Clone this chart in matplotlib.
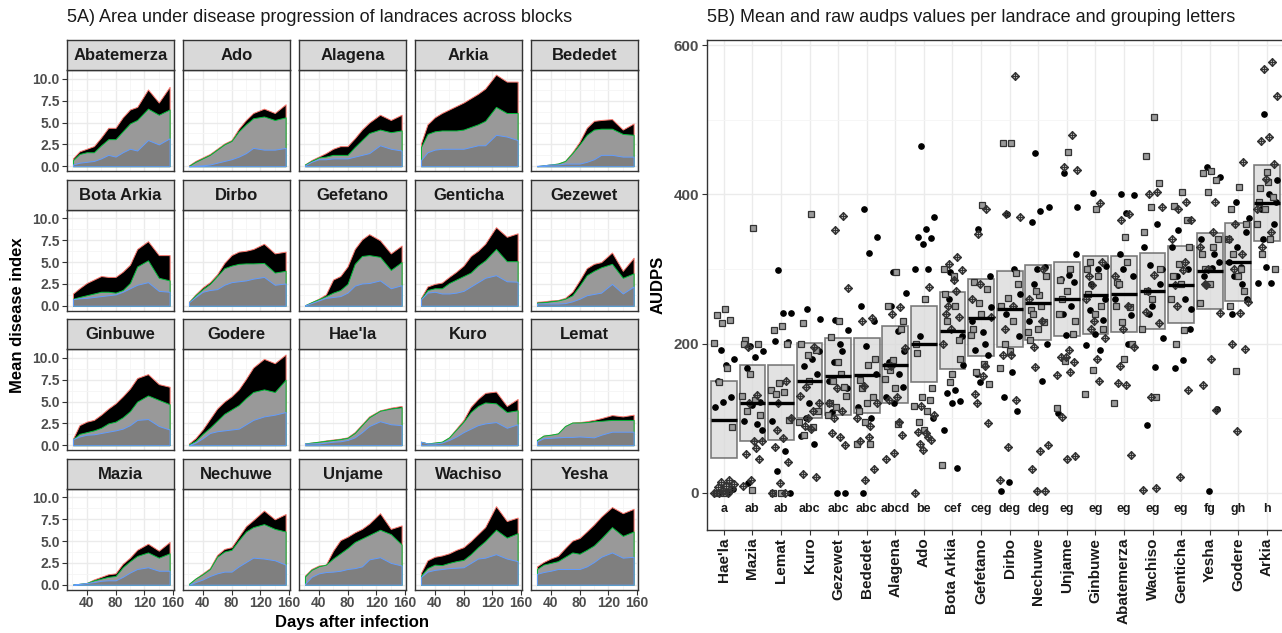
import numpy as np
import matplotlib
matplotlib.use("Agg")
import matplotlib.pyplot as plt
from matplotlib.path import Path
from matplotlib.patches import Rectangle

plt.rcParams['font.family'] = ['Liberation Sans', 'DejaVu Sans']

# ---------------- data: panel A ----------------
days = [21, 30, 40, 50, 60, 70, 80, 90, 100, 110, 125, 140, 155]
facets = ["Abatemerza", "Ado", "Alagena", "Arkia", "Bededet",
          "Bota Arkia", "Dirbo", "Gefetano", "Genticha", "Gezewet",
          "Ginbuwe", "Godere", "Hae'la", "Kuro", "Lemat",
          "Mazia", "Nechuwe", "Unjame", "Wachiso", "Yesha"]

upper_layer = {
    "Abatemerza": [0.9, 1.7, 2.0, 2.3, 3.3, 4.4, 4.4, 5.6, 6.5, 6.8, 8.8, 7.3, 9.1],
    "Ado": [0.1, 0.6, 1.0, 1.4, 2.0, 2.6, 3.0, 4.3, 5.3, 6.1, 6.6, 6.1, 7.1],
    "Alagena": [0.2, 0.7, 1.1, 1.5, 2.0, 2.3, 2.3, 3.2, 4.2, 5.0, 5.9, 5.3, 5.9],
    "Arkia": [2.6, 4.8, 5.6, 6.1, 6.5, 6.9, 7.3, 7.8, 8.3, 8.9, 10.5, 9.7, 9.7],
    "Bededet": [0.0, 0.1, 0.2, 0.3, 0.6, 1.6, 2.8, 4.4, 5.2, 5.3, 5.4, 4.2, 4.9],
    "Bota Arkia": [1.4, 2.0, 2.6, 3.0, 3.4, 3.3, 3.3, 3.9, 4.7, 6.5, 7.4, 5.8, 5.8],
    "Dirbo": [0.45, 1.3, 2.1, 2.7, 3.6, 4.9, 5.8, 6.2, 6.3, 6.5, 7.1, 6.0, 6.2],
    "Gefetano": [0.05, 0.4, 0.8, 1.3, 3.0, 3.4, 4.5, 6.5, 7.6, 8.2, 7.5, 6.0, 6.9],
    "Genticha": [0.9, 2.2, 2.5, 2.65, 3.3, 3.9, 4.6, 5.7, 6.3, 7.1, 9.0, 7.9, 8.3],
    "Gezewet": [0.45, 0.5, 0.6, 0.65, 0.9, 1.6, 2.9, 4.3, 4.8, 5.0, 6.1, 4.0, 5.5],
    "Ginbuwe": [0.75, 2.3, 2.7, 2.9, 3.5, 4.2, 4.8, 5.6, 6.5, 7.7, 8.15, 7.0, 6.7],
    "Godere": [0.2, 0.8, 1.8, 3.0, 4.2, 5.0, 5.6, 6.4, 7.6, 8.9, 9.9, 9.4, 10.4],
    "Hae'la": [0.2, 0.3, 0.4, 0.55, 0.65, 0.75, 0.9, 1.5, 2.4, 3.3, 4.0, 4.3, 4.5],
    "Kuro": [0.4, 0.2, 0.3, 0.4, 0.9, 1.9, 2.9, 4.4, 5.3, 6.0, 6.15, 4.5, 5.3],
    "Lemat": [0.6, 1.1, 1.2, 1.35, 2.2, 2.6, 2.65, 2.75, 2.9, 3.1, 3.45, 3.3, 3.5],
    "Mazia": [0.0, 0.1, 0.2, 0.6, 0.9, 1.2, 1.3, 2.4, 3.1, 4.0, 4.7, 3.9, 4.9],
    "Nechuwe": [0.1, 0.7, 1.3, 1.9, 3.4, 4.1, 4.3, 5.5, 6.7, 7.4, 8.5, 7.5, 8.1],
    "Unjame": [1.05, 1.8, 2.2, 2.3, 3.9, 5.1, 5.5, 6.0, 6.4, 7.0, 8.2, 6.4, 6.8],
    "Wachiso": [1.35, 2.8, 3.2, 3.35, 3.6, 4.0, 4.3, 5.0, 5.8, 6.6, 9.0, 7.3, 7.7],
    "Yesha": [2.1, 2.6, 3.0, 3.3, 4.2, 5.05, 5.35, 6.1, 6.9, 7.8, 8.9, 8.2, 8.7],
}
middle_layer = {
    "Abatemerza": [0.7, 1.4, 1.6, 1.6, 2.4, 3.1, 3.1, 4.0, 4.9, 5.3, 6.6, 5.9, 6.5],
    "Ado": [0.05, 0.5, 0.9, 1.3, 1.9, 2.5, 2.9, 4.0, 4.8, 5.5, 5.7, 5.3, 5.6],
    "Alagena": [0.2, 0.6, 1.0, 1.1, 1.3, 1.3, 1.3, 2.2, 3.0, 3.8, 4.2, 3.9, 4.1],
    "Arkia": [2.2, 3.7, 4.0, 4.1, 4.1, 4.1, 4.2, 4.5, 4.8, 5.2, 6.8, 6.1, 6.1],
    "Bededet": [0.0, 0.1, 0.2, 0.3, 0.6, 1.5, 2.5, 3.6, 4.2, 4.3, 4.3, 3.7, 3.6],
    "Bota Arkia": [0.8, 1.0, 1.2, 1.4, 1.6, 1.6, 1.5, 1.8, 2.6, 4.5, 5.2, 3.2, 2.9],
    "Dirbo": [0.4, 1.2, 1.9, 2.5, 3.4, 4.3, 4.6, 4.8, 4.85, 4.85, 4.9, 3.8, 4.0],
    "Gefetano": [0.05, 0.4, 0.75, 1.1, 1.5, 1.8, 2.5, 4.8, 5.7, 5.8, 5.6, 4.1, 5.0],
    "Genticha": [0.8, 1.8, 2.0, 2.0, 2.6, 3.0, 3.4, 3.8, 4.6, 5.2, 6.5, 5.1, 5.1],
    "Gezewet": [0.35, 0.4, 0.5, 0.6, 0.8, 1.2, 2.3, 3.5, 4.0, 4.4, 4.8, 3.2, 3.7],
    "Ginbuwe": [0.7, 1.3, 1.5, 1.7, 2.0, 2.5, 2.7, 3.2, 3.9, 5.0, 5.7, 5.2, 4.7],
    "Godere": [0.1, 0.5, 1.3, 2.0, 2.8, 3.6, 4.1, 4.6, 5.4, 6.1, 6.4, 6.1, 7.5],
    "Hae'la": [0.2, 0.3, 0.4, 0.5, 0.6, 0.7, 0.85, 1.4, 2.3, 3.2, 3.95, 4.2, 4.35],
    "Kuro": [0.4, 0.2, 0.3, 0.4, 0.9, 1.8, 2.7, 3.8, 4.5, 4.9, 4.8, 3.8, 4.0],
    "Lemat": [0.6, 1.1, 1.2, 1.35, 2.2, 2.6, 2.6, 2.65, 2.75, 2.8, 2.9, 2.9, 2.9],
    "Mazia": [0.0, 0.1, 0.2, 0.5, 0.7, 0.9, 1.0, 2.0, 2.7, 3.3, 3.7, 3.1, 3.6],
    "Nechuwe": [0.1, 0.7, 1.2, 1.8, 3.2, 3.8, 4.0, 5.1, 6.1, 6.6, 6.95, 6.4, 6.1],
    "Unjame": [0.95, 1.7, 2.1, 2.3, 3.0, 3.6, 4.2, 4.9, 5.3, 5.7, 6.3, 5.8, 4.6],
    "Wachiso": [1.05, 1.9, 2.3, 2.25, 2.5, 2.7, 2.85, 3.5, 4.3, 5.0, 6.3, 5.4, 5.9],
    "Yesha": [1.8, 2.3, 2.5, 2.7, 3.2, 3.7, 3.55, 4.0, 4.5, 5.3, 6.6, 5.6, 6.1],
}
lower_layer = {
    "Abatemerza": [0.2, 0.4, 0.5, 0.6, 0.9, 1.3, 1.1, 1.6, 2.0, 1.8, 3.0, 2.5, 3.2],
    "Ado": [0.0, 0.05, 0.1, 0.2, 0.4, 0.6, 0.8, 1.1, 1.5, 2.1, 1.9, 1.9, 2.1],
    "Alagena": [0.1, 0.5, 0.8, 0.8, 0.9, 0.9, 0.9, 1.1, 1.3, 1.5, 2.4, 2.0, 1.8],
    "Arkia": [0.7, 1.6, 1.9, 2.0, 2.0, 2.0, 2.0, 2.2, 2.4, 2.4, 3.6, 3.4, 3.0],
    "Bededet": [0.05, 0.1, 0.2, 0.2, 0.3, 0.3, 0.3, 0.5, 0.8, 1.3, 1.3, 1.1, 1.1],
    "Bota Arkia": [0.75, 0.85, 0.9, 1.0, 1.1, 1.2, 1.3, 1.6, 2.0, 2.4, 2.7, 1.7, 1.6],
    "Dirbo": [0.4, 1.0, 1.6, 1.8, 1.9, 2.4, 2.7, 2.8, 2.9, 3.1, 3.3, 2.4, 2.55],
    "Gefetano": [0.05, 0.3, 0.6, 0.9, 1.0, 1.1, 1.5, 2.3, 2.55, 2.6, 2.9, 2.0, 2.35],
    "Genticha": [0.75, 1.5, 1.6, 1.4, 1.4, 1.5, 1.7, 2.2, 2.7, 3.2, 3.5, 2.8, 2.75],
    "Gezewet": [0.25, 0.25, 0.25, 0.25, 0.3, 0.5, 0.8, 1.2, 1.35, 1.5, 2.5, 1.4, 2.2],
    "Ginbuwe": [0.7, 1.0, 1.2, 1.25, 1.4, 1.55, 1.7, 1.9, 2.3, 2.9, 3.0, 2.2, 1.8],
    "Godere": [0.0, 0.3, 0.8, 1.4, 1.6, 1.7, 1.8, 1.9, 2.4, 2.9, 3.3, 3.5, 3.8],
    "Hae'la": [0.2, 0.2, 0.2, 0.3, 0.4, 0.45, 0.6, 0.9, 1.5, 2.2, 2.75, 2.4, 2.3],
    "Kuro": [0.4, 0.2, 0.2, 0.3, 0.6, 1.0, 1.5, 1.9, 2.3, 2.5, 2.65, 2.0, 2.4],
    "Lemat": [0.45, 0.8, 0.85, 0.9, 0.95, 0.95, 1.0, 0.95, 0.9, 1.2, 1.55, 1.55, 1.55],
    "Mazia": [0.0, 0.1, 0.2, 0.3, 0.45, 0.5, 0.5, 0.9, 1.4, 1.8, 2.0, 1.6, 1.6],
    "Nechuwe": [0.0, 0.3, 0.6, 1.0, 1.3, 1.5, 1.5, 2.1, 2.6, 3.1, 3.0, 2.8, 2.3],
    "Unjame": [0.1, 0.9, 1.3, 1.45, 1.5, 1.6, 1.8, 1.9, 2.1, 2.9, 3.15, 2.5, 2.2],
    "Wachiso": [0.9, 1.5, 1.7, 1.8, 1.9, 1.95, 2.0, 2.5, 3.0, 3.1, 3.5, 3.0, 2.7],
    "Yesha": [1.25, 1.45, 1.6, 1.8, 1.8, 1.8, 1.8, 2.1, 2.6, 3.2, 3.7, 3.1, 3.2],
}
a_yticks = [0.0, 2.5, 5.0, 7.5, 10.0]
a_xticks = [40, 80, 120, 160]

# ---------------- data: panel B ----------------
order = ["Hae'la", "Mazia", "Lemat", "Kuro", "Gezewet", "Bededet", "Alagena", "Ado",
         "Bota Arkia", "Gefetano", "Dirbo", "Nechuwe", "Unjame", "Ginbuwe",
         "Abatemerza", "Wachiso", "Genticha", "Yesha", "Godere", "Arkia"]
means = [98, 120, 121, 150, 156, 158, 171, 199, 217, 234, 247, 255, 260, 265, 266, 270, 279, 297, 309, 389]
box_low = [47, 69, 71, 100, 105, 107, 120, 148, 166, 184, 196, 205, 210, 213, 215, 220, 227, 247, 257, 338]
box_high = [150, 171, 172, 201, 207, 208, 223, 250, 269, 286, 297, 306, 310, 317, 318, 321, 331, 348, 361, 439]
letters = ["a", "ab", "ab", "abc", "abc", "abc", "abcd", "be", "cef", "ceg", "deg", "deg",
           "eg", "eg", "eg", "eg", "eg", "fg", "gh", "h"]

raw_circle = {
    "Hae'la": [192, 179, 171, 150, 128, 122, 115, 0, 0, 5],
    "Mazia": [197, 190, 182, 167, 122, 118, 97, 93, 13, 85],
    "Lemat": [298, 241, 241, 204, 202, 147, 97, 56, 30, 0],
    "Kuro": [247, 233, 179, 170, 160, 120, 76, 66, 100, 190],
    "Gezewet": [232, 218, 200, 109, 0, 0, 150, 190, 175, 140],
    "Bededet": [381, 343, 322, 250, 230, 197, 115, 100, 0, 160],
    "Alagena": [296, 268, 217, 175, 142, 120, 129, 160, 250, 190],
    "Ado": [465, 370, 353, 343, 341, 333, 300, 300, 210, 100],
    "Bota Arkia": [296, 172, 138, 134, 123, 120, 84, 33, 260, 210],
    "Gefetano": [354, 249, 216, 191, 185, 148, 230, 200, 160, 290],
    "Dirbo": [373, 267, 162, 129, 110, 15, 2, 300, 240, 210],
    "Nechuwe": [455, 383, 377, 363, 303, 300, 230, 150, 280, 200],
    "Unjame": [429, 383, 292, 287, 283, 211, 107, 250, 240, 320],
    "Ginbuwe": [402, 304, 300, 245, 232, 213, 198, 191, 280, 260],
    "Abatemerza": [401, 399, 375, 278, 238, 300, 260, 200, 320, 290],
    "Wachiso": [305, 207, 169, 91, 280, 250, 330, 360, 240, 300],
    "Genticha": [352, 247, 178, 168, 300, 280, 330, 260, 290, 220],
    "Yesha": [437, 423, 301, 290, 113, 2, 340, 320, 280, 310],
    "Godere": [390, 368, 302, 240, 350, 330, 310, 280, 290, 260],
    "Arkia": [508, 419, 400, 380, 360, 302, 281, 281, 340, 390],
}
raw_square = {
    "Hae'la": [246, 239, 232, 228, 201, 167, 149, 89, 0, 0],
    "Mazia": [355, 205, 200, 160, 130, 125, 110, 105, 4, 200],
    "Lemat": [223, 218, 200, 147, 138, 135, 133, 98, 0, 0],
    "Kuro": [373, 227, 191, 185, 95, 89, 77, 110, 150, 200],
    "Gezewet": [231, 209, 142, 115, 105, 160, 150, 130, 175, 120],
    "Bededet": [172, 151, 129, 95, 66, 65, 140, 180, 120, 110],
    "Alagena": [296, 250, 220, 178, 153, 93, 165, 230, 140, 170],
    "Ado": [260, 187, 124, 129, 116, 110, 95, 140, 85, 200],
    "Bota Arkia": [290, 267, 205, 149, 37, 250, 230, 180, 160, 300],
    "Gefetano": [386, 283, 273, 254, 211, 173, 162, 146, 240, 220],
    "Dirbo": [469, 469, 294, 261, 167, 230, 200, 280, 190, 250],
    "Nechuwe": [265, 245, 229, 270, 215, 250, 240, 290, 220, 205],
    "Unjame": [457, 285, 213, 177, 114, 300, 260, 230, 270, 240],
    "Ginbuwe": [380, 266, 250, 165, 133, 290, 310, 220, 240, 300],
    "Abatemerza": [343, 283, 249, 229, 121, 310, 280, 200, 180, 250],
    "Wachiso": [504, 451, 415, 383, 220, 129, 270, 300, 260, 350],
    "Genticha": [403, 385, 365, 307, 260, 218, 200, 330, 280, 290],
    "Yesha": [431, 428, 419, 403, 254, 330, 300, 340, 280, 320],
    "Godere": [410, 380, 270, 164, 340, 300, 320, 360, 290, 250],
    "Arkia": [417, 408, 397, 380, 360, 340, 320, 300, 430, 390],
}
raw_diamond = {
    "Hae'la": [18, 15, 12, 10, 8, 5, 3, 0, 0, 0],
    "Mazia": [131, 120, 69, 69, 52, 46, 17, 10, 60, 195],
    "Lemat": [150, 120, 100, 73, 62, 42, 13, 0, 0, 85],
    "Kuro": [195, 142, 120, 86, 26, 22, 100, 130, 110, 90],
    "Gezewet": [371, 352, 275, 75, 80, 64, 140, 120, 110, 100],
    "Bededet": [234, 143, 120, 75, 69, 32, 18, 100, 90, 230],
    "Alagena": [249, 240, 194, 129, 125, 77, 53, 46, 95, 170],
    "Ado": [276, 116, 104, 80, 82, 71, 57, 0, 75, 65],
    "Bota Arkia": [316, 307, 298, 285, 240, 236, 220, 200, 270, 250],
    "Gefetano": [381, 347, 236, 156, 132, 94, 280, 260, 170, 120],
    "Dirbo": [558, 374, 370, 185, 185, 124, 61, 17, 250, 220],
    "Nechuwe": [300, 169, 64, 56, 32, 2, 2, 260, 230, 195],
    "Unjame": [480, 437, 433, 191, 182, 176, 182, 158, 162, 102, 49, 45],
    "Ginbuwe": [389, 278, 207, 179, 290, 310, 230, 260, 150, 220],
    "Abatemerza": [374, 365, 195, 144, 147, 51, 220, 290, 250, 170],
    "Wachiso": [403, 401, 383, 292, 243, 227, 129, 4, 7, 270],
    "Genticha": [390, 381, 365, 298, 278, 138, 22, 340, 310, 250],
    "Yesha": [390, 278, 241, 179, 144, 111, 300, 330, 350, 280],
    "Godere": [443, 360, 256, 241, 200, 193, 83, 340, 320, 300],
    "Arkia": [577, 568, 532, 477, 472, 440, 420, 380, 350, 330],
}
b_yticks = [0, 200, 400, 600]

# ---------------- figure ----------------
W, H = 1282, 633
fig = plt.figure(figsize=(W / 100, H / 100), dpi=100)


def px_axes(x0, y0, x1, y1, **kw):
    return fig.add_axes([x0 / W, 1 - y1 / H, (x1 - x0) / W, (y1 - y0) / H], **kw)


GRID = '#EBEBEB'
BORDER = '#333333'
TICKC = '#4D4D4D'

# ---- Panel A ----
col_left = [66.7, 182.7, 298.7, 414.7, 530.7]
pw = 107.6
row_top = [70, 209.5, 349, 488.5]
ph = 101
strip_h = 30

for i, name in enumerate(facets):
    r, c = divmod(i, 5)
    x0 = col_left[c]
    y0 = row_top[r]
    ax = px_axes(x0, y0, x0 + pw, y0 + ph)
    ax.set_xlim(12.3, 161.5)
    ax.set_ylim(-0.55, 11.03)
    ax.set_xticks(a_xticks)
    ax.set_xticks([20, 60, 100, 140], minor=True)
    ax.set_yticks(a_yticks)
    ax.set_yticks([1.25, 3.75, 6.25, 8.75], minor=True)
    ax.grid(True, which='major', color=GRID, lw=1.0)
    ax.grid(True, which='minor', color='#F5F5F5', lw=0.6)
    ax.set_axisbelow(True)
    for s in ax.spines.values():
        s.set_color(BORDER)
        s.set_linewidth(1.0)
    ax.fill_between(days, 0, upper_layer[name], facecolor='black',
                    edgecolor='#F8766D', lw=0.7, zorder=3)
    ax.fill_between(days, 0, middle_layer[name], facecolor='#999999',
                    edgecolor='#00BA38', lw=0.7, zorder=4)
    ax.fill_between(days, 0, lower_layer[name], facecolor='#7F7F7F',
                    edgecolor='#619CFF', lw=0.7, zorder=5)
    ax.tick_params(which='minor', length=0)
    ax.tick_params(which='major', length=3.5, color=BORDER, width=0.8,
                   labelsize=10, labelcolor=TICKC, pad=1.5)
    if c == 0:
        ax.set_yticklabels([f"{v:.1f}" for v in a_yticks], fontweight='bold')
    else:
        ax.tick_params(axis='y', length=0, labelleft=False)
    if r == 3:
        ax.set_xticklabels([str(v) for v in a_xticks], fontweight='bold')
    else:
        ax.tick_params(axis='x', length=0, labelbottom=False)
    # strip
    sx = px_axes(x0, y0 - strip_h, x0 + pw, y0)
    sx.set_facecolor('#D9D9D9')
    sx.set_xticks([])
    sx.set_yticks([])
    for s in sx.spines.values():
        s.set_color(BORDER)
        s.set_linewidth(1.0)
    sx.text(0.5, 0.47, name, transform=sx.transAxes, ha='center', va='center',
            fontsize=12, fontweight='bold', color='#1A1A1A')

fig.text(67 / W, 1 - 18 / H, "5A) Area under disease progression of landraces across blocks",
         ha='left', va='center', fontsize=13, color='#1A1A1A')
fig.text(18 / W, 1 - 315 / H, "Mean disease index", rotation=90, ha='center', va='center',
         fontsize=12, fontweight='bold')
fig.text(352 / W, 1 - 622 / H, "Days after infection", ha='center', va='center',
         fontsize=12, fontweight='bold')

# ---- Panel B ----
bx = px_axes(706.7, 40, 1284, 530)
n = len(order)
pos = np.arange(1, n + 1)
bx.set_xlim(0.4, n + 0.6)
bx.set_ylim(-49.6, 606.7)
bx.set_yticks(b_yticks)
bx.set_yticks([100, 300, 500], minor=True)
bx.set_xticks(pos)
bx.grid(True, which='major', color=GRID, lw=1.0)
bx.grid(True, which='minor', axis='y', color='#F5F5F5', lw=0.6)
bx.set_axisbelow(True)
for s in bx.spines.values():
    s.set_color(BORDER)
    s.set_linewidth(1.0)
bx.tick_params(which='minor', length=0)
bx.tick_params(which='major', length=3.5, color=BORDER, width=0.8, pad=2)
bx.set_yticklabels([str(v) for v in b_yticks], fontsize=11, fontweight='bold', color=TICKC)
bx.set_xticklabels(order, rotation=90, fontsize=11, fontweight='bold', color='#1A1A1A')
bx.set_ylabel("AUDPS", fontsize=12, fontweight='bold', labelpad=6)

bw = 0.9
for p, lo, hi, m in zip(pos, box_low, box_high, means):
    bx.add_patch(Rectangle((p - bw / 2, lo), bw, hi - lo, facecolor='#D9D9D9',
                           alpha=0.75, edgecolor='#555555', lw=1.2, zorder=2))
    bx.plot([p - bw / 2, p + bw / 2], [m, m], color='black', lw=2.4, zorder=4,
            solid_capstyle='butt')

dplus = Path([(0, 1), (1, 0), (0, -1), (-1, 0), (0, 1), (0, 1), (0, -1), (-1, 0), (1, 0)],
             [Path.MOVETO, Path.LINETO, Path.LINETO, Path.LINETO, Path.CLOSEPOLY,
              Path.MOVETO, Path.LINETO, Path.MOVETO, Path.LINETO])

for k, name in enumerate(order):
    vals_c = raw_circle[name]
    vals_s = raw_square[name]
    vals_d = raw_diamond[name]
    total = len(vals_c) + len(vals_s) + len(vals_d)
    offs = ((np.arange(total) * 0.6180339887 + 0.37) % 1.0 - 0.5) * 0.74
    xc = pos[k] + offs[:len(vals_c)]
    xs = pos[k] + offs[len(vals_c):len(vals_c) + len(vals_s)]
    xd = pos[k] + offs[len(vals_c) + len(vals_s):]
    bx.plot(xc, vals_c, 'o', ms=3.8, color='black', mec='black', zorder=3)
    bx.plot(xs, vals_s, 's', ms=4.3, mfc='#9A9A9A', mec='#333333', mew=0.9, zorder=3)
    bx.plot(xd, vals_d, linestyle='none', marker=dplus, ms=5.5, mfc='none',
            mec='#333333', mew=1.0, zorder=3)

for p, lt in zip(pos, letters):
    bx.text(p, -22, lt, ha='center', va='center', fontsize=9, fontweight='bold',
            color='#1A1A1A', zorder=5)

fig.text(707 / W, 1 - 18 / H, "5B) Mean and raw audps values per landrace and grouping letters",
         ha='left', va='center', fontsize=13, color='#1A1A1A')

fig.savefig("out.png", dpi=100)
